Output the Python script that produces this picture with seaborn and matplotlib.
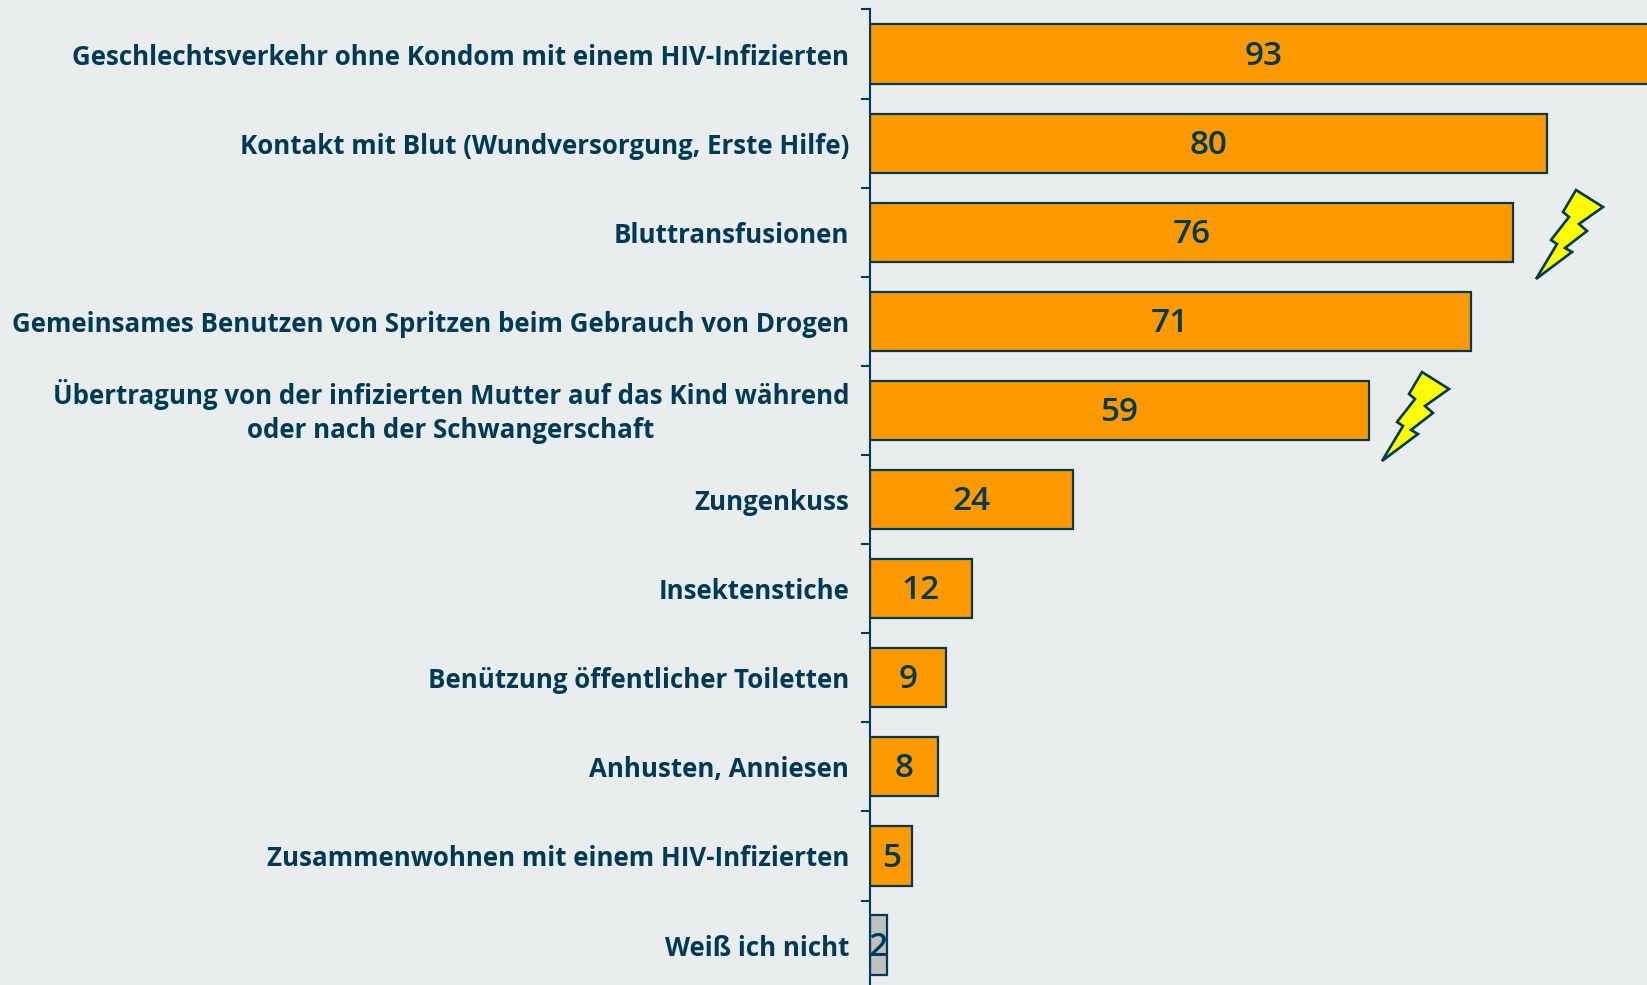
import matplotlib
matplotlib.use("Agg")
import matplotlib.pyplot as plt
import seaborn as sns
import pandas as pd
from matplotlib.patches import Polygon
from matplotlib.transforms import ScaledTranslation

# Values
categories = [
    "Geschlechtsverkehr ohne Kondom mit einem HIV-Infizierten",
    "Kontakt mit Blut (Wundversorgung, Erste Hilfe)",
    "Bluttransfusionen",
    "Gemeinsames Benutzen von Spritzen beim Gebrauch von Drogen",
    "Übertragung von der infizierten Mutter auf das Kind während\noder nach der Schwangerschaft",
    "Zungenkuss",
    "Insektenstiche",
    "Benützung öffentlicher Toiletten",
    "Anhusten, Anniesen",
    "Zusammenwohnen mit einem HIV-Infizierten",
    "Weiß ich nicht",
]
values = [93, 80, 76, 71, 59, 24, 12, 9, 8, 5, 2]
bar_colors = ["#FF9900"] * 10 + ["#C0C0C0"]

BG = "#E9EDEE"
INK = "#003A54"
W, H = 1647, 985
PX_PER_UNIT = 8.46

# Lightning bolt outline in pixels, tip at (0, 0), y pointing down
bolt = [(0, 0), (21, -35), (15, -39), (33, -62), (27, -67), (40, -89), (67, -72),
        (43, -55), (51, -48), (29, -31), (36, -27)]
bolt_tips = [(1536, 279), (1382, 461)]

sns.set_theme(style="ticks")
plt.rcParams["font.family"] = ["Open Sans", "DejaVu Sans"]

df = pd.DataFrame({"category": categories, "value": values})

fig = plt.figure(figsize=(W / 100, H / 100), dpi=100, facecolor=BG)
# axes run past the right and bottom edge, the top bar is cut off by the figure
ax = fig.add_axes([870 / W, -4.6 / H, 95 * PX_PER_UNIT / W, 980.1 / H], facecolor=BG)

sns.barplot(data=df, x="value", y="category", hue="category", palette=bar_colors,
            saturation=1, legend=False, width=0.665, edgecolor=INK, linewidth=1.6, ax=ax)

ax.set_xlim(0, 95)
ax.set_ylim(10.5, -0.5)
ax.set_xlabel("")
ax.set_ylabel("")
ax.xaxis.set_visible(False)
for side in ["top", "right", "bottom"]:
    ax.spines[side].set_visible(False)
ax.spines["left"].set_color(INK)
ax.spines["left"].set_linewidth(1.5)

# Ticks sit between the categories, labels in the middle
ax.set_yticks([i - 0.5 for i in range(11)])
ax.set_yticks(range(11), minor=True)
ax.set_yticklabels([])
labels = ax.set_yticklabels(categories, minor=True, fontsize=18.6, fontweight="bold",
                            color=INK, multialignment="center", linespacing=1.3)
ax.tick_params(axis="y", which="major", length=6.5, width=1.5, color=INK)
ax.tick_params(axis="y", which="minor", length=0, pad=15)

# the two line label sits a bit higher than its bar centre
labels[4].set_transform(labels[4].get_transform() + ScaledTranslation(0, 3.6 / 72, fig.dpi_scale_trans))

for cont in ax.containers:
    for lab in ax.bar_label(cont, label_type="center", fontsize=24, fontweight="semibold", color=INK):
        lab.xyann = (0, -1.5)

for tx, ty in bolt_tips:
    pts = [((tx + dx) / W, 1 - (ty + dy) / H) for dx, dy in bolt]
    fig.add_artist(Polygon(pts, closed=True, transform=fig.transFigure, facecolor="#FFFF00",
                           edgecolor=INK, linewidth=1.9, joinstyle="miter"))

fig.savefig("out.png", dpi=100, facecolor=BG)
